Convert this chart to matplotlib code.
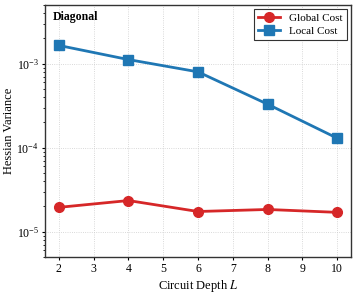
import matplotlib
matplotlib.use("Agg")
import matplotlib.pyplot as plt

depths = [2, 4, 6, 8, 10]
global_cost = [1.95e-5, 2.35e-5, 1.74e-5, 1.84e-5, 1.70e-5]
local_cost = [1.65e-3, 1.12e-3, 8.0e-4, 3.3e-4, 1.3e-4]

plt.rcParams['font.family'] = ['Liberation Serif', 'DejaVu Serif']
plt.rcParams['mathtext.fontset'] = 'stix'

fig = plt.figure(figsize=(3.57, 2.94), dpi=100)
ax = fig.add_axes([45/357, 1-257/294, (351-45)/357, (257-5)/294])

ax.plot(depths, global_cost, color='#d62728', marker='o', markersize=7, linewidth=2, label='Global Cost')
ax.plot(depths, local_cost, color='#1f77b4', marker='s', markersize=7, linewidth=2, label='Local Cost')

ax.set_yscale('log')
ax.set_ylim(5e-6, 5e-3)
ax.set_xlim(1.6, 10.4)
ax.set_xticks(range(2, 11))
ax.tick_params(axis='both', which='major', labelsize=8.5, direction='out', length=2.5, pad=2, width=0.8)
ax.tick_params(axis='both', which='minor', length=1.5, width=0.6)
ax.grid(True, which='major', linestyle=':', color='#cccccc', linewidth=0.6)
ax.set_xlabel('Circuit Depth $L$', fontsize=9, labelpad=2)
ax.set_ylabel('Hessian Variance', fontsize=9)
ax.yaxis.set_label_coords(-0.098, 0.5)
for s in ax.spines.values():
    s.set_linewidth(1.0)
    s.set_color('#333333')

ax.text(0.025, 0.975, 'Diagonal', transform=ax.transAxes, fontsize=8.5, fontweight='bold', va='top', ha='left')
leg = ax.legend(loc='upper right', fontsize=8, fancybox=False, edgecolor='#333333', framealpha=1,
                borderaxespad=0.4, handlelength=2.0, borderpad=0.35, labelspacing=0.3)
leg.get_frame().set_linewidth(0.8)

fig.savefig('out.png', dpi=100)
